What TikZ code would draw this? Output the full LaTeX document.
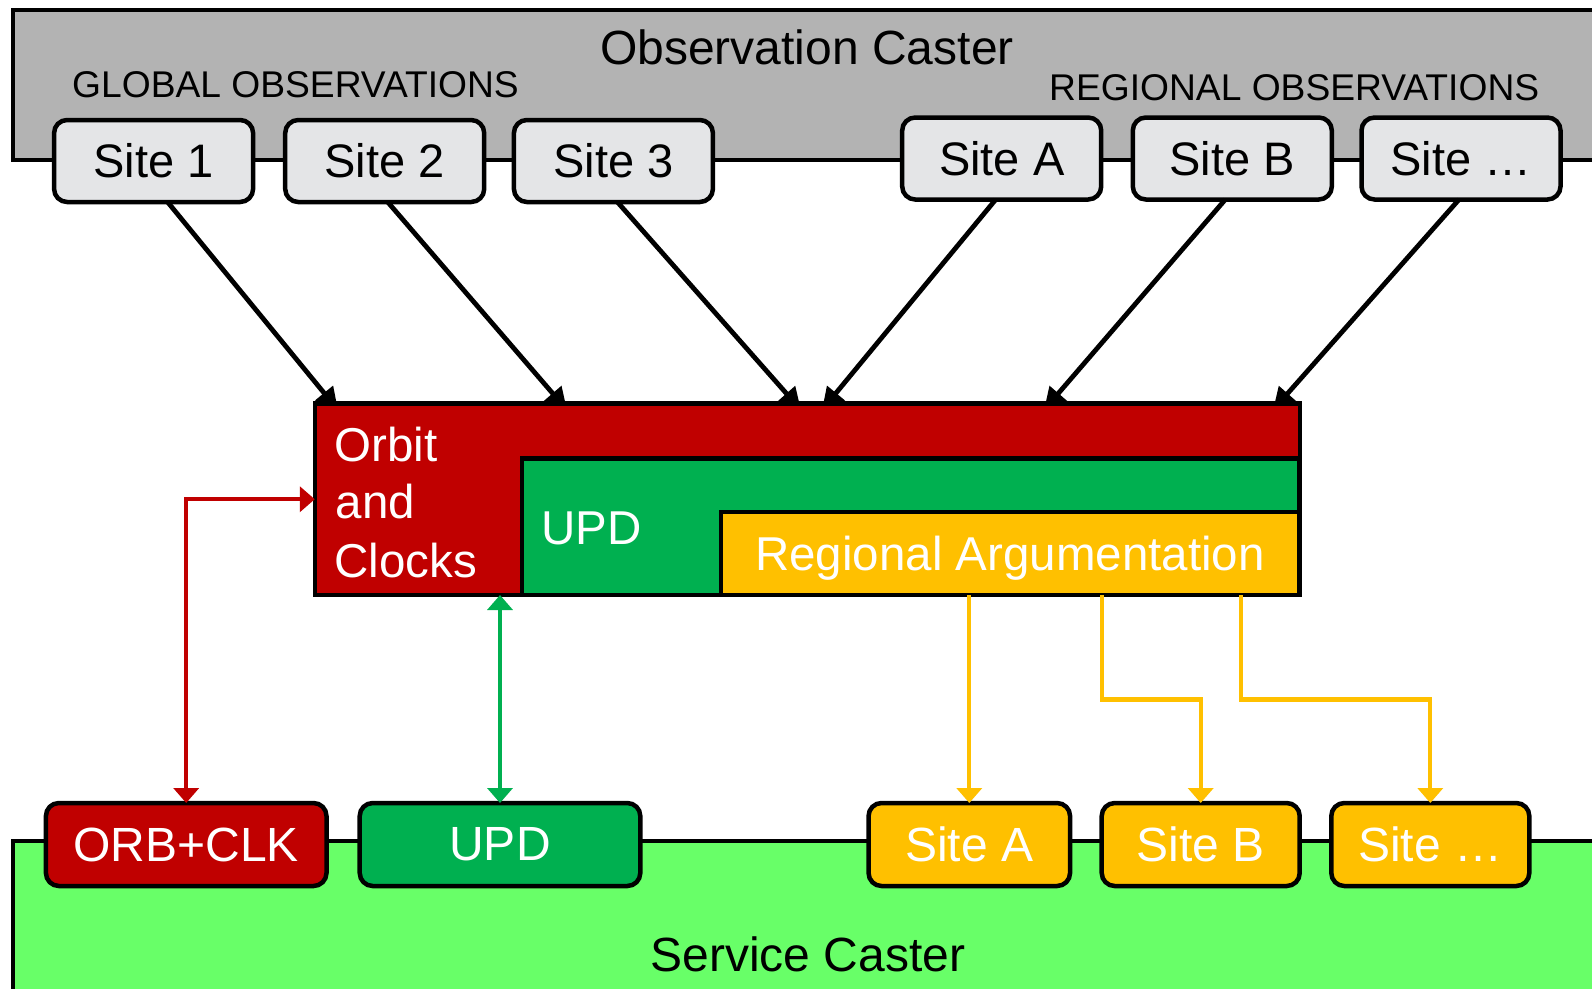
\documentclass[tikz,border=0pt]{standalone}
\usepackage{fontspec}
\setmainfont{Liberation Sans}
\usetikzlibrary{arrows.meta}

\definecolor{obsgray}{RGB}{179,179,179}
\definecolor{sitegray}{RGB}{228,229,231}
\definecolor{cred}{RGB}{192,0,0}
\definecolor{cgreen}{RGB}{0,176,80}
\definecolor{cyellow}{RGB}{255,192,0}
\definecolor{svcgreen}{RGB}{104,255,104}

\begin{document}
\begin{tikzpicture}[x=1pt,y=-1pt,
  caster/.style={draw=black, line width=4pt, outer sep=0pt, inner sep=0pt, anchor=north west},
  layer/.style={draw=black, line width=4.5pt, outer sep=0pt, inner sep=0pt, anchor=north west},
  sitebox/.style={draw=black, line width=4.5pt, rounded corners=13pt, minimum width=199pt,
    minimum height=82pt, outer sep=0pt, inner sep=0pt, font=\fontsize{47}{56}\selectfont},
  prodbox/.style={sitebox, minimum height=83pt, text=white, font=\fontsize{48}{56}\selectfont},
  bigtext/.style={inner sep=0pt, font=\fontsize{48}{56}\selectfont},
  labeltext/.style={inner sep=0pt, font=\fontsize{37.2}{44}\selectfont},
  whitetext/.style={inner sep=0pt, text=white, font=\fontsize{47.5}{58}\selectfont},
  obsarrow/.style={draw=black, line width=4.8pt, -{Triangle[length=22pt,width=22pt]}},
  redarrow/.style={draw=cred, line width=4.3pt, {Triangle[length=15pt,width=25pt]}-{Triangle[length=15pt,width=25pt]}},
  greenarrow/.style={draw=cgreen, line width=4.3pt, {Triangle[length=15pt,width=25pt]}-{Triangle[length=15pt,width=25pt]}},
  yellowarrow/.style={draw=cyellow, line width=4.3pt, -{Triangle[length=15pt,width=25pt]}}
]
\useasboundingbox (0,0) rectangle (1592,988);
\clip (0,0) rectangle (1592,988);

% Observation caster with its sites
\node[caster, fill=obsgray, minimum width=1607pt, minimum height=150pt] (obs) at (13,10) {};
\node[bigtext, anchor=base] (obstitle) at (807,64) {Observation Caster};
\node[labeltext, anchor=base west] (globallbl) at (72,97.3) {GLOBAL OBSERVATIONS};
\node[labeltext, anchor=base west] (regionallbl) at (1049,100.7) {REGIONAL OBSERVATIONS};

\node[sitebox, fill=sitegray] (s1) at (153.6,161) {Site 1};
\node[sitebox, fill=sitegray] (s2) at (384.7,161) {Site 2};
\node[sitebox, fill=sitegray] (s3) at (613.4,161) {Site 3};
\node[sitebox, fill=sitegray] (sA) at (1001.7,158.5) {Site A};
\node[sitebox, fill=sitegray] (sB) at (1232.3,158.5) {Site B};
\node[sitebox, fill=sitegray] (sN) at (1461,158.5) {Site …};

% Anchor points on the top edge of the processing block, where the streams arrive
\coordinate (in1) at (338,410);
\coordinate (in2) at (567,410);
\coordinate (in3) at (801,410);
\coordinate (inA) at (822,410);
\coordinate (inB) at (1044,410);
\coordinate (inN) at (1273,410);

% Observation streams into the processing (heads tucked under the block)
\draw[obsarrow] ([xshift=14pt]s1.south) -- (in1);
\draw[obsarrow] ([xshift=3pt]s2.south) -- (in2);
\draw[obsarrow] ([xshift=4pt]s3.south) -- (in3);
\draw[obsarrow] ([xshift=-6pt]sA.south) -- (inA);
\draw[obsarrow] ([xshift=-7pt]sB.south) -- (inB);
\draw[obsarrow] ([xshift=-2pt]sN.south) -- (inN);

% Processing layers
\node[layer, fill=cred, minimum width=985pt, minimum height=191.5pt] (orbit) at (314.8,403.5) {};
\node[layer, fill=cgreen, minimum width=777.7pt, minimum height=136.3pt] (updlayer) at (522,458.7) {};
\node[layer, fill=cyellow, minimum width=578.7pt, minimum height=83.2pt] (regional) at (721,511.8) {};

\node[whitetext, anchor=base west] (orbitA) at (334.5,461.4) {Orbit};
\node[whitetext, anchor=base west] (orbitB) at (335.5,518.8) {and};
\node[whitetext, anchor=base west] (orbitC) at (334.5,577.7) {Clocks};
\node[whitetext, anchor=base west] (updtxt) at (541,544.7) {UPD};
\node[whitetext, anchor=base] (regtxt) at (1010,570.7) {Regional Argumentation};

% Service caster with its products
\node[caster, fill=svcgreen, minimum width=1607pt, minimum height=200pt] (svc) at (12.8,840.5) {};
\node[bigtext, anchor=base] (svctitle) at (808,971) {Service Caster};

\node[prodbox, fill=cred, minimum width=280.6pt] (orb) at (186.2,844.5) {ORB+CLK};
\node[prodbox, fill=cgreen, minimum width=280.6pt] (upd) at (500,844.5) {UPD};
\node[prodbox, fill=cyellow, minimum width=201.5pt] (rA) at (969.3,844.5) {Site A};
\node[prodbox, fill=cyellow, minimum width=198pt] (rB) at (1200.7,844.5) {Site B};
\node[prodbox, fill=cyellow, minimum width=198pt] (rN) at (1430.3,844.5) {Site …};

% Product streams
\draw[redarrow] (orb.north) |- (orbit.west);
\draw[greenarrow] (upd.north |- orbit.south) -- (upd.north);
\draw[yellowarrow] (rA.north |- regional.south) -- (rA.north);
\draw[yellowarrow] ([xshift=380.7pt]regional.south west) -- ++(0,104.5) -| (rB.north);
\draw[yellowarrow] ([xshift=520pt]regional.south west) -- ++(0,104.5) -| (rN.north);
\end{tikzpicture}
\end{document}
